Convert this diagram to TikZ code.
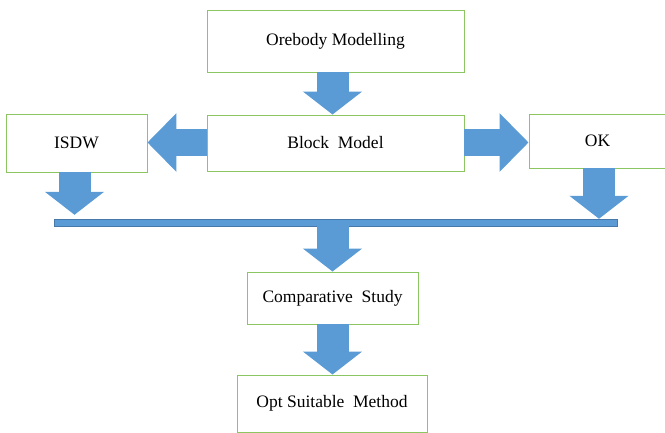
\documentclass[tikz,border=0pt]{standalone}
\usepackage{fontspec}
\setmainfont{Liberation Serif}
\usetikzlibrary{arrows.meta,positioning}
\definecolor{boxgreen}{RGB}{140,198,98}
\definecolor{arrblue}{RGB}{91,155,213}
\definecolor{arredge}{RGB}{70,120,170}

\begin{document}
\begin{tikzpicture}[x=1pt,y=-1pt,every node/.style={font=\fontsize{17.5}{20}\selectfont},
   bx/.style={rectangle,draw=boxgreen,line width=0.9pt,fill=white,inner sep=0pt},
   vfat/.style={arrblue,line width=32pt,-{Triangle[length=23pt,width=58pt]}},
   hfat/.style={arrblue,line width=27pt,-{Triangle[length=29pt,width=57pt]}}]
  \useasboundingbox (0,0) rectangle (665,433);
  \clip (0,0) rectangle (665,433);
  \node[bx,minimum width=257pt,minimum height=62pt] (ore) at (335.5,41) {Orebody Modelling};
  \node[bx,minimum width=257pt,minimum height=56pt] (blk) at (335.5,143) {Block~ Model};
  \node[bx,minimum width=141pt,minimum height=58pt] (isdw) at (76.5,143) {ISDW};
  \node[bx,minimum width=137pt,minimum height=54pt] (ok) at (597.5,141) {OK};
  \node[rectangle,draw=arredge,line width=0.4pt,fill=arrblue,minimum width=563pt,
        minimum height=7pt,inner sep=0pt] (bar) at (335.5,222.5) {};
  \node[bx,minimum width=171pt,minimum height=52pt] (cmp) at (332.5,298) {Comparative~ Study};
  \node[bx,minimum width=190pt,minimum height=57pt] (opt) at (332,403.5) {Opt Suitable~ Method};
  \draw[vfat] (ore.south -| cmp) -- (blk.north -| cmp);
  \draw[hfat] ([yshift=0.5pt]blk.west) -- ([yshift=0.5pt]blk.west -| isdw.east);
  \draw[hfat] ([yshift=0.5pt]blk.east) -- ([yshift=0.5pt]blk.east -| ok.west);
  \draw[vfat] ([xshift=-2pt]isdw.south) -- ([xshift=-2pt,yshift=4pt]bar.north -| isdw);
  \draw[vfat] ([xshift=1.5pt]ok.south) -- ([xshift=1.5pt]bar.north -| ok);
  \draw[vfat] ([yshift=-2pt]bar.north -| cmp) -- (cmp.north);
  \draw[vfat] (cmp.south) -- (opt.north -| cmp);
\end{tikzpicture}
\end{document}
